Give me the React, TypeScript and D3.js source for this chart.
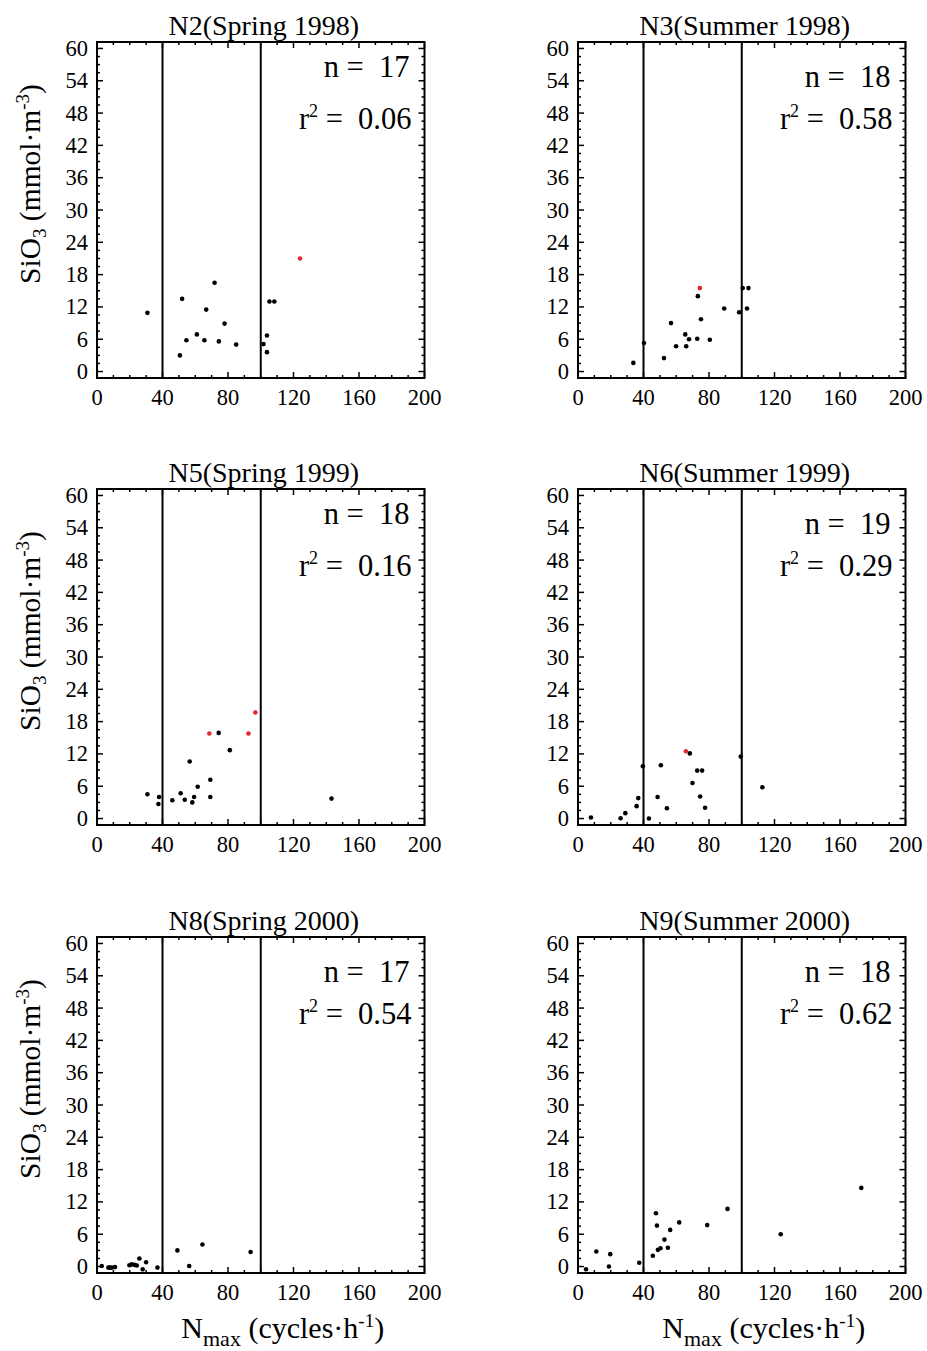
import React from "react";
import * as d3 from "d3";

// ---------- data ----------
const titles = ["N2(Spring 1998)", "N3(Summer 1998)", "N5(Spring 1999)", "N6(Summer 1999)", "N8(Spring 2000)", "N9(Summer 2000)"];
const nValues = ["17", "18", "18", "19", "17", "18"];
const r2Values = ["0.06", "0.58", "0.16", "0.29", "0.54", "0.62"];

const n2Black = [[30.8, 10.9], [52, 13.5], [71.8, 16.5], [66.7, 11.5], [77.9, 8.9], [61, 6.9], [54.6, 5.8], [65.6, 5.8], [74.4, 5.6], [85, 5.0], [50.6, 3.0], [103.8, 6.7], [101.7, 5.1], [103.8, 3.6], [105.3, 13.0], [108.3, 13.0]];
const n2Red = [[124, 21]];

const n3Black = [[33.8, 1.6], [40.3, 5.3], [52.5, 2.5], [56.8, 9.0], [59.9, 4.7], [65.5, 6.9], [67.8, 6.0], [66.1, 4.7], [72.8, 6.1], [80.5, 5.9], [73.2, 14.0], [75.1, 9.7], [89.3, 11.7], [98.4, 11.0], [100.6, 15.5], [104.1, 15.5], [103.2, 11.7]];
const n3Red = [[74.4, 15.5]];

const n5Black = [[30.8, 4.5], [37.5, 2.7], [37.9, 4.0], [46.0, 3.4], [51.1, 4.7], [53.6, 3.5], [56.6, 10.6], [58.2, 3.0], [59.3, 4.0], [61.5, 5.9], [69.2, 7.2], [69.2, 4.0], [74.3, 15.9], [81.1, 12.7], [143.2, 3.7]];
const n5Red = [[68.6, 15.8], [92.5, 15.8], [96.7, 19.7]];

const n6Black = [[7.9, 0.2], [26.0, 0.05], [28.9, 1.0], [35.8, 2.3], [36.8, 3.8], [39.6, 9.7], [43.3, 0], [48.6, 4.0], [54.3, 1.9], [50.6, 9.9], [68.3, 12.1], [72.8, 8.9], [75.8, 8.9], [69.9, 6.6], [74.6, 4.1], [77.6, 2.0], [99.4, 11.5], [112.6, 5.8]];
const n6Red = [[65.9, 12.5]];

const n8Black = [[2.9, 0.1], [6.9, -0.2], [7.8, -0.2], [9.0, -0.2], [11.0, -0.1], [19.8, 0.25], [21.2, 0.4], [23.0, 0.3], [24.3, 0.2], [25.9, 1.5], [27.9, -0.5], [30.0, 0.8], [36.9, -0.2], [49.1, 3.0], [56.3, 0.1], [64.4, 4.1], [93.8, 2.7]];
const n8Red: number[][] = [];

const n9Black = [[4.9, -0.5], [11.2, 2.8], [18.9, 0], [19.7, 2.3], [37.4, 0.7], [45.7, 2.0], [47.6, 9.9], [48.2, 7.6], [48.8, 3.1], [50.4, 3.4], [52.8, 5.0], [54.9, 3.5], [56.3, 6.8], [61.8, 8.2], [78.9, 7.7], [91.3, 10.7], [123.8, 6.0], [173.0, 14.6]];
const n9Red: number[][] = [];

const blackSets = [n2Black, n3Black, n5Black, n6Black, n8Black, n9Black];
const redSets = [n2Red, n3Red, n5Red, n6Red, n8Red, n9Red];

const xTicks = [0, 40, 80, 120, 160, 200];
const yTicks = [0, 6, 12, 18, 24, 30, 36, 42, 48, 54, 60];
const xMinor = d3.range(0, 201, 10);
const yMinor = d3.range(0, 60.01, 1.5);
const refLines = [40, 100];
const xDomain = [0, 200];
const yDomain = [-1.2, 61.2];

// ---------- layout ----------
const FONT = "'Liberation Serif', 'Times New Roman', serif";
const colX = [97, 578];
const rowY = [42, 489, 937];
const PW = 327.5;
const PH = 336;

function Panel({ i }: { i: number }) {
  const col = i % 2;
  const row = Math.floor(i / 2);
  const left = colX[col];
  const top = rowY[row];
  const x = d3.scaleLinear().domain(xDomain).range([left, left + PW]);
  const y = d3.scaleLinear().domain(yDomain).range([top + PH, top]);
  const bottom = top + PH;
  const right = left + PW;
  const nBase = top + (i === 0 || i === 2 ? 35 : 45);
  const rBase = top + 87;
  return (
    <g>
      <text x={(left + right) / 2 + 3} y={top - 7} textAnchor="middle" fontSize={28} fontFamily={FONT}>
        {titles[i]}
      </text>
      {refLines.map((v) => (
        <line key={v} x1={x(v)} x2={x(v)} y1={top} y2={bottom} stroke="#000" strokeWidth={2} />
      ))}
      {xMinor.map((v) => {
        const len = v % 40 === 0 ? 6 : 3;
        return (
          <g key={"xm" + v}>
            <line x1={x(v)} x2={x(v)} y1={bottom} y2={bottom - len} stroke="#000" strokeWidth={1.5} />
            <line x1={x(v)} x2={x(v)} y1={top} y2={top + len} stroke="#000" strokeWidth={1.5} />
          </g>
        );
      })}
      {yMinor.map((v) => {
        const len = Math.abs(v % 6) < 1e-6 ? 6 : 3;
        return (
          <g key={"ym" + v}>
            <line x1={left} x2={left + len} y1={y(v)} y2={y(v)} stroke="#000" strokeWidth={1.5} />
            <line x1={right} x2={right - len} y1={y(v)} y2={y(v)} stroke="#000" strokeWidth={1.5} />
          </g>
        );
      })}
      <rect x={left} y={top} width={PW} height={PH} fill="none" stroke="#000" strokeWidth={2} />
      {xTicks.map((v) => (
        <text key={"xl" + v} x={x(v)} y={bottom + 27} textAnchor="middle" fontSize={22.5} fontFamily={FONT}>
          {v}
        </text>
      ))}
      {yTicks.map((v) => (
        <text key={"yl" + v} x={left - 9} y={y(v) + 7.5} textAnchor="end" fontSize={22.5} fontFamily={FONT}>
          {v}
        </text>
      ))}
      {blackSets[i].map((p, k) => (
        <circle key={"b" + k} cx={x(p[0])} cy={y(p[1])} r={2.3} fill="#000" />
      ))}
      {redSets[i].map((p, k) => (
        <circle key={"r" + k} cx={x(p[0])} cy={y(p[1])} r={2.3} fill="#e3262e" />
      ))}
      <text x={right - 15} y={nBase} textAnchor="end" fontSize={30.5} fontFamily={FONT} style={{ whiteSpace: "pre" }}>
        {"n =  " + nValues[i]}
      </text>
      <text x={right - 13} y={rBase} textAnchor="end" fontSize={30.5} fontFamily={FONT} style={{ whiteSpace: "pre" }}>
        r<tspan dy={-12} fontSize={18}>2</tspan>
        <tspan dy={12}>{" =  " + r2Values[i]}</tspan>
      </text>
      {col === 0 && (
        <text
          transform={`translate(40, ${top + 142}) rotate(-90)`}
          textAnchor="middle"
          fontSize={29.5}
          fontFamily={FONT}
          style={{ whiteSpace: "pre" }}
        >
          SiO<tspan dy={6} fontSize={19}>3</tspan>
          <tspan dy={-6}>{" (mmol·m"}</tspan>
          <tspan dy={-11} fontSize={19}>-3</tspan>
          <tspan dy={11}>)</tspan>
        </text>
      )}
      {row === 2 && (
        <text x={(left + right) / 2 + 22} y={bottom + 65} textAnchor="middle" fontSize={30} fontFamily={FONT} style={{ whiteSpace: "pre" }}>
          N<tspan dy={8} fontSize={22}>max</tspan>
          <tspan dy={-8}>{" (cycles·h"}</tspan>
          <tspan dy={-11} fontSize={19}>-1</tspan>
          <tspan dy={11}>)</tspan>
        </text>
      )}
    </g>
  );
}

export default function App() {
  return (
    <svg width={927} height={1351} style={{ display: "block", position: "absolute", left: 0, top: 0, background: "#fff" }}>
      <rect x={0} y={0} width={927} height={1351} fill="#fff" />
      {titles.map((_, i) => (
        <Panel key={i} i={i} />
      ))}
    </svg>
  );
}
